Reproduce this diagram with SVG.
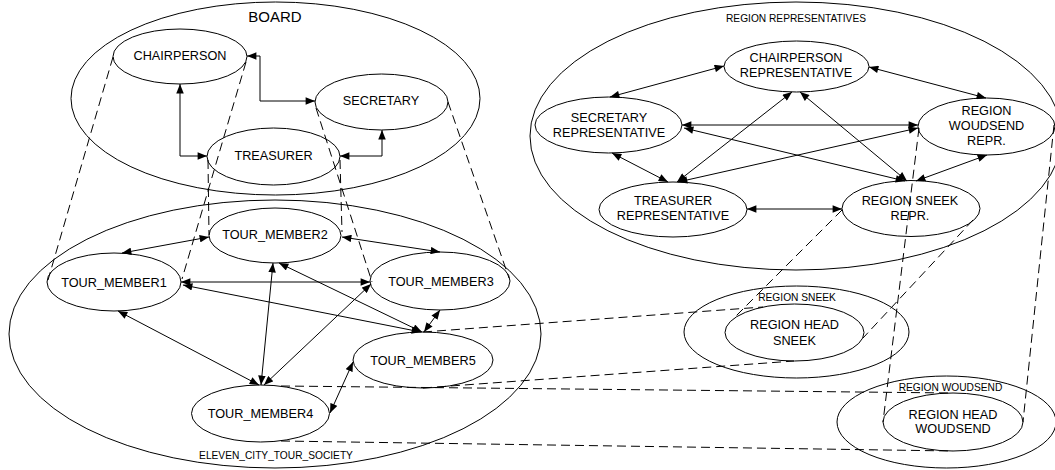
<svg xmlns="http://www.w3.org/2000/svg" width="1055" height="470" viewBox="0 0 1055 470">
<defs>
<marker id="ah" viewBox="0 0 10 8" markerWidth="10" markerHeight="7.5" refX="10" refY="4" orient="auto-start-reverse" markerUnits="userSpaceOnUse"><path d="M0,0 L10,4 L0,8 z" fill="#000"/></marker>
</defs>
<style>
ellipse{fill:none;stroke:#000;stroke-width:1}
text{font-family:"Liberation Sans",Arial,sans-serif;font-size:12.7px;text-anchor:middle;fill:#000}
.s{font-size:10.2px}
.b{font-size:15px}
.a{fill:none;stroke:#000;stroke-width:1;marker-start:url(#ah);marker-end:url(#ah)}
.d{fill:none;stroke:#000;stroke-width:1;stroke-dasharray:9 5}
</style>
<rect width="1055" height="470" fill="#fff"/>

<g id="board"><ellipse cx="275.5" cy="98.5" rx="204.5" ry="96.5"/><text class="b" x="275" y="21.5">BOARD</text></g>
<g id="society"><ellipse cx="275" cy="334" rx="266" ry="134"/><text class="s" x="276" y="458.6">ELEVEN_CITY_TOUR_SOCIETY</text></g>
<g id="region-representatives"><ellipse cx="796" cy="136" rx="266" ry="134"/><text class="s" x="796" y="21.6">REGION REPRESENTATIVES</text></g>
<g id="region-sneek"><ellipse cx="796.5" cy="332" rx="112.5" ry="46"/><text class="s" x="797" y="300.6">REGION SNEEK</text></g>
<g id="region-woudsend"><ellipse cx="946.5" cy="422" rx="109.5" ry="46"/><text class="s" x="950.5" y="390.6">REGION WOUDSEND</text></g>

<g id="chairperson"><ellipse cx="180" cy="56.5" rx="67" ry="27.5"/><text x="180" y="59.5">CHAIRPERSON</text></g>
<g id="secretary"><ellipse cx="381.5" cy="102" rx="66.5" ry="28"/><text x="381" y="104.5">SECRETARY</text></g>
<g id="treasurer"><ellipse cx="273.5" cy="156.5" rx="66.5" ry="28.5"/><text x="273.5" y="159.5">TREASURER</text></g>

<g id="tour_member1"><ellipse cx="114" cy="282" rx="67" ry="29"/><text x="114" y="286.5">TOUR_MEMBER1</text></g>
<g id="tour_member2"><ellipse cx="275" cy="235.5" rx="66" ry="27.5"/><text x="275" y="238.5">TOUR_MEMBER2</text></g>
<g id="tour_member3"><ellipse cx="440" cy="281" rx="70" ry="29"/><text x="441" y="286">TOUR_MEMBER3</text></g>
<g id="tour_member4"><ellipse cx="260.5" cy="413.5" rx="69" ry="28.5"/><text x="260.5" y="417.5">TOUR_MEMBER4</text></g>
<g id="tour_member5"><ellipse cx="423" cy="360" rx="70" ry="28"/><text x="423" y="364.5">TOUR_MEMBER5</text></g>

<g id="chairperson-representative"><ellipse cx="796.5" cy="66.5" rx="72.5" ry="25.5"/><text x="796" y="61.5">CHAIRPERSON</text><text x="796" y="76.5">REPRESENTATIVE</text></g>
<g id="secretary-representative"><ellipse cx="608.5" cy="125" rx="73.5" ry="28"/><text x="609" y="121.5">SECRETARY</text><text x="609" y="136.5">REPRESENTATIVE</text></g>
<g id="region-woudsend-repr"><ellipse cx="986.5" cy="126.5" rx="68.5" ry="28.5"/><text x="986.5" y="114.5">REGION</text><text x="986.5" y="129.5">WOUDSEND</text><text x="986.5" y="144.5">REPR.</text></g>
<g id="treasurer-representative"><ellipse cx="673" cy="209.5" rx="74" ry="27.5"/><text x="673" y="204.5">TREASURER</text><text x="673" y="219.5">REPRESENTATIVE</text></g>
<g id="region-sneek-repr"><ellipse cx="911" cy="208.5" rx="69" ry="28"/><text x="910" y="204.5">REGION SNEEK</text><text x="910" y="219.5">REPR.</text></g>

<g id="region-head-sneek"><ellipse cx="794.5" cy="332.5" rx="69.5" ry="28.5"/><text x="794.5" y="328.5">REGION HEAD</text><text x="794.5" y="344.5">SNEEK</text></g>
<g id="region-head-woudsend"><ellipse cx="953" cy="422" rx="70" ry="29"/><text x="953" y="418.5">REGION HEAD</text><text x="953" y="432.5">WOUDSEND</text></g>

<g id="connectors">
<path class="a" d="M247,56 H260 V101 H315"/>
<path class="a" d="M180,84 V156 H207"/>
<path class="a" d="M340,156 H382 V130"/>
<path class="a" d="M122,253 L209,237"/>
<path class="a" d="M342,237 L440,252"/>
<path class="a" d="M181,282 L370,282"/>
<path class="a" d="M183,285 L421,332"/>
<path class="a" d="M279,263 L422,332"/>
<path class="a" d="M440,310 L424,332"/>
<path class="a" d="M273,263 L261,385"/>
<path class="a" d="M371,284 L264,385"/>
<path class="a" d="M118,311 L259,385"/>
<path class="a" d="M330,413 L353,362"/>
<path class="a" d="M724,66 L610,97"/>
<path class="a" d="M869,67 L986,98"/>
<path class="a" d="M682,125 L918,125"/>
<path class="a" d="M684,128 L905,181"/>
<path class="a" d="M792,92 L677,182"/>
<path class="a" d="M800,92 L907,181"/>
<path class="a" d="M678,182 L918,128"/>
<path class="a" d="M612,153 L668,182"/>
<path class="a" d="M987,155 L916,181"/>
<path class="a" d="M747,209 L842,209"/>
</g>
<g id="mappings">
<path class="d" d="M113,57 L48,280"/>
<path class="d" d="M246,62 L182,279"/>
<path class="d" d="M208,160 L209,235"/>
<path class="d" d="M340,160 L342,232"/>
<path class="d" d="M316,108 L372,282"/>
<path class="d" d="M448,102 L509,278"/>
<path class="d" d="M423,332 L763,307"/>
<path class="d" d="M423,388 L794,361"/>
<path class="d" d="M281,386 L953,393"/>
<path class="d" d="M281,441 L953,451"/>
<path class="d" d="M842,210 L733,319"/>
<path class="d" d="M973,220 L863,338"/>
<path class="d" d="M919,128 L883,422"/>
<path class="d" d="M1054,125 L1023,422"/>
</g>
</svg>
